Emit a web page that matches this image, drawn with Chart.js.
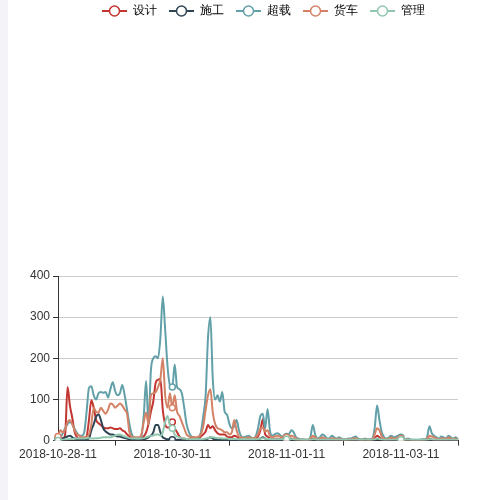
<!DOCTYPE html>
<html>
<head>
<meta charset="utf-8">
<script src="https://cdn.jsdelivr.net/npm/chart.js@4.4.0/dist/chart.umd.min.js"></script>
<style>
  html, body { margin: 0; padding: 0; background: #fff; }
  #side { position: absolute; left: 0; top: 0; width: 8px; height: 500px; background: #f3f3f8; }
  #wrap { position: absolute; left: 0; top: 0; width: 500px; height: 500px; }
</style>
</head>
<body>
<div id="side"></div>
<div id="wrap"><canvas id="myChart"></canvas></div>
<script>
// hourly buckets, first one 2018-10-28 11:00
const startHour = Date.UTC(2018, 9, 28, 11);
const hourCount = 169;

const seriesNames = ['设计', '施工', '超载', '货车', '管理'];
const seriesColors = ['#c23531', '#2f4554', '#61a0a8', '#d48265', '#91c7ae'];

const sheji = [
  3, 5, 5, 15, 130, 85, 55, 20, 8, 5,
  5, 5, 10, 50, 98, 80, 50, 42, 38, 32,
  30, 30, 32, 30, 28, 28, 30, 25, 22, 15,
  10, 5, 3, 3, 3, 5, 10, 20, 40, 70,
  95, 140, 148, 150, 75, 40, 32, 32, 45, 30,
  20, 10, 5, 5, 3, 3, 3, 3, 3, 5,
  10, 15, 22, 38, 30, 35, 25, 18, 15, 15,
  15, 10, 8, 8, 12, 10, 5, 3, 3, 3,
  3, 3, 3, 5, 10, 25, 52, 15, 10, 5,
  3, 3, 5, 3, 3, 5, 3, 3, 5, 3,
  2, 2, 1, 1, 1, 1, 2, 5, 3, 2,
  2, 3, 2, 1, 1, 2, 2, 1, 2, 1,
  1, 1, 1, 1, 2, 2, 1, 1, 1, 1,
  1, 1, 2, 5, 12, 8, 3, 2, 1, 2,
  3, 2, 2, 3, 2, 1, 1, 1, 1, 0,
  0, 0, 0, 1, 1, 2, 5, 3, 2, 1,
  1, 2, 1, 1, 3, 2, 1, 2, 1
];

const shigong = [
  2, 3, 5, 8, 10, 12, 8, 5, 3, 2,
  2, 2, 3, 5, 25, 40, 58, 64, 50, 30,
  22, 18, 15, 15, 12, 10, 10, 8, 6, 5,
  3, 2, 2, 2, 2, 2, 3, 5, 8, 12,
  20, 38, 38, 20, 8, 5, 3, 3, 2, 2,
  2, 2, 1, 1, 1, 1, 1, 1, 1, 1,
  1, 2, 3, 5, 8, 5, 3, 2, 2, 2,
  2, 2, 1, 1, 2, 2, 1, 1, 1, 1,
  1, 1, 1, 2, 3, 5, 8, 5, 3, 2,
  1, 1, 2, 2, 1, 1, 2, 3, 4, 2,
  1, 1, 0, 0, 0, 0, 1, 2, 1, 1,
  1, 2, 1, 0, 0, 1, 1, 0, 1, 0,
  0, 0, 0, 0, 1, 1, 0, 0, 0, 0,
  0, 0, 1, 2, 4, 3, 1, 1, 0, 1,
  2, 1, 1, 2, 1, 0, 0, 0, 0, 0,
  0, 0, 0, 0, 0, 1, 2, 1, 1, 0,
  0, 1, 0, 0, 2, 1, 0, 1, 0
];

const chaozai = [
  2, 8, 18, 30, 40, 45, 40, 28, 18, 12,
  12, 20, 70, 128, 132, 110, 100, 115, 118, 116,
  118, 105, 125, 142, 120, 110, 115, 135, 110, 75,
  40, 15, 8, 5, 5, 10, 60, 145, 40, 170,
  200, 205, 200, 250, 350, 270, 180, 135, 130, 185,
  130, 125, 115, 80, 40, 20, 10, 8, 5, 8,
  20, 60, 110, 250, 300, 150, 100, 110, 95, 118,
  70, 63, 40, 30, 35, 50, 25, 10, 8, 10,
  12, 8, 5, 10, 30, 60, 65, 30, 77, 25,
  12, 15, 18, 15, 10, 12, 10, 15, 25, 20,
  8, 5, 3, 3, 2, 2, 8, 38, 15, 5,
  8, 15, 12, 5, 5, 12, 8, 5, 8, 5,
  3, 3, 5, 5, 8, 10, 5, 3, 3, 5,
  3, 3, 5, 30, 85, 50, 20, 8, 5, 8,
  12, 8, 10, 12, 8, 3, 3, 5, 3, 2,
  2, 2, 2, 3, 3, 8, 35, 18, 12, 8,
  5, 10, 8, 5, 12, 8, 5, 8, 3
];

const huoche = [
  10, 25, 20, 28, 45, 50, 40, 25, 15, 12,
  8, 8, 10, 15, 40, 80, 70, 68, 80, 72,
  65, 75, 90, 88, 80, 85, 90, 85, 75, 65,
  20, 10, 8, 8, 8, 15, 45, 68, 40, 110,
  115, 118, 130, 150, 200, 110, 80, 115, 80, 110,
  70, 60, 45, 30, 15, 10, 8, 8, 8, 10,
  15, 35, 75, 110, 125, 68, 40, 30, 28, 25,
  20, 20, 15, 20, 50, 25, 10, 8, 6, 6,
  8, 6, 5, 8, 15, 30, 32, 22, 25, 12,
  8, 10, 12, 10, 8, 10, 8, 10, 12, 10,
  5, 3, 2, 2, 2, 2, 5, 12, 8, 3,
  5, 8, 6, 3, 3, 6, 5, 3, 5, 3,
  2, 2, 3, 3, 5, 6, 3, 2, 2, 3,
  2, 2, 3, 15, 30, 25, 10, 5, 3, 5,
  8, 5, 6, 8, 5, 2, 2, 3, 2, 1,
  1, 1, 1, 2, 2, 5, 12, 10, 8, 5,
  3, 6, 5, 3, 8, 5, 3, 5, 2
];

const guanli = [
  0, 1, 2, 3, 3, 4, 4, 5, 5, 5,
  5, 5, 6, 6, 5, 5, 6, 6, 7, 8,
  8, 8, 8, 10, 12, 14, 15, 12, 10, 8,
  6, 5, 5, 5, 5, 5, 6, 8, 10, 12,
  12, 15, 15, 12, 20, 45, 60, 38, 30, 15,
  10, 8, 6, 5, 4, 3, 3, 3, 3, 3,
  3, 4, 5, 6, 8, 8, 7, 6, 6, 5,
  5, 5, 4, 4, 4, 4, 3, 3, 3, 3,
  3, 3, 3, 3, 4, 5, 6, 5, 4, 4,
  3, 3, 3, 3, 3, 3, 3, 3, 3, 3,
  2, 2, 2, 2, 2, 2, 2, 3, 3, 2,
  2, 2, 2, 2, 2, 2, 2, 2, 2, 2,
  2, 2, 2, 2, 2, 2, 2, 2, 2, 2,
  2, 2, 2, 3, 5, 4, 3, 2, 2, 2,
  2, 2, 2, 2, 2, 2, 2, 2, 2, 2,
  2, 2, 2, 2, 2, 2, 3, 3, 2, 2,
  2, 2, 2, 2, 2, 2, 2, 2, 2
];

const yTicks = [0, 100, 200, 300, 400];

function pad(n) { return n < 10 ? '0' + n : '' + n; }

const hourLabels = [];
for (let i = 0; i < hourCount; i++) {
    const d = new Date(startHour + i * 3600000);
    hourLabels.push(d.getUTCFullYear() + '-' + pad(d.getUTCMonth() + 1) + '-' + pad(d.getUTCDate()) + '-' + pad(d.getUTCHours()));
}

const allSeries = [sheji, shigong, chaozai, huoche, guanli];

// legend icon: short line with a hollow circle
function makeIcon(color) {
    const c = document.createElement('canvas');
    c.width = 25;
    c.height = 14;
    const g = c.getContext('2d');
    g.strokeStyle = color;
    g.lineWidth = 2;
    g.beginPath();
    g.moveTo(0, 7);
    g.lineTo(25, 7);
    g.stroke();
    g.beginPath();
    g.arc(12.5, 7, 5, 0, Math.PI * 2);
    g.fillStyle = '#fff';
    g.fill();
    g.lineWidth = 1.5;
    g.stroke();
    return c;
}
const icons = seriesColors.map(makeIcon);

const datasets = seriesNames.map((name, k) => ({
    label: name,
    data: allSeries[k],
    borderColor: seriesColors[k],
    backgroundColor: seriesColors[k],
    borderWidth: 2,
    fill: false,
    cubicInterpolationMode: 'monotone',
    pointRadius: (ctx) => (ctx.dataIndex % 48 === 0 ? 3 : 0),
    pointBackgroundColor: '#fff',
    pointBorderColor: seriesColors[k],
    pointBorderWidth: 1.5,
    order: 4 - k
}));

// push the plot area down below the legend, and nudge the legend itself
const legendSpacer = {
    id: 'legendSpacer',
    beforeInit(chart) {
        const fit = chart.legend.fit;
        chart.legend.fit = function () {
            fit.bind(chart.legend)();
            this.height += 242;
        };
    },
    afterLayout(chart) {
        chart.legend.left += 42;
        chart.legend.top -= 7;
    }
};

const ctx = document.getElementById('myChart').getContext('2d');
const myChart = new Chart(ctx, {
    type: 'line',
    data: {
        labels: hourLabels,
        datasets: datasets
    },
    plugins: [legendSpacer],
    options: {
        responsive: true,
        maintainAspectRatio: false,
        animation: false,
        events: [],
        layout: {
            padding: { top: 0, left: 27, right: 42, bottom: 36 }
        },
        font: { family: 'sans-serif' },
        plugins: {
            tooltip: { enabled: false },
            legend: {
                position: 'top',
                align: 'center',
                labels: {
                    usePointStyle: true,
                    pointStyleWidth: 25,
                    boxHeight: 12,
                    padding: 12,
                    color: '#333',
                    font: { size: 12, family: 'sans-serif' },
                    generateLabels: () => seriesNames.map((name, k) => ({
                        text: name,
                        pointStyle: icons[k],
                        fillStyle: seriesColors[k],
                        strokeStyle: seriesColors[k],
                        lineWidth: 0,
                        hidden: false,
                        datasetIndex: k
                    }))
                }
            }
        },
        scales: {
            x: {
                type: 'category',
                offset: false,
                border: { display: true, color: '#333', width: 1 },
                grid: {
                    drawOnChartArea: false,
                    drawTicks: true,
                    tickLength: 5,
                    tickColor: (c) => (c.index % 48 === 24 ? '#333' : 'rgba(0,0,0,0)')
                },
                ticks: {
                    autoSkip: false,
                    maxRotation: 0,
                    minRotation: 0,
                    padding: 2,
                    color: '#333',
                    font: { size: 12, family: 'sans-serif' },
                    callback: function (val, idx) {
                        return idx % 48 === 0 ? hourLabels[idx] : '';
                    }
                }
            },
            y: {
                min: 0,
                max: 400,
                afterBuildTicks: (axis) => { axis.ticks = yTicks.map(v => ({ value: v })); },
                border: { display: true, color: '#333', width: 1 },
                grid: {
                    color: '#ccc',
                    tickColor: '#333',
                    tickLength: 5
                },
                ticks: {
                    padding: 3,
                    color: '#333',
                    font: { size: 12, family: 'sans-serif' }
                }
            }
        }
    }
});
</script>
</body>
</html>
